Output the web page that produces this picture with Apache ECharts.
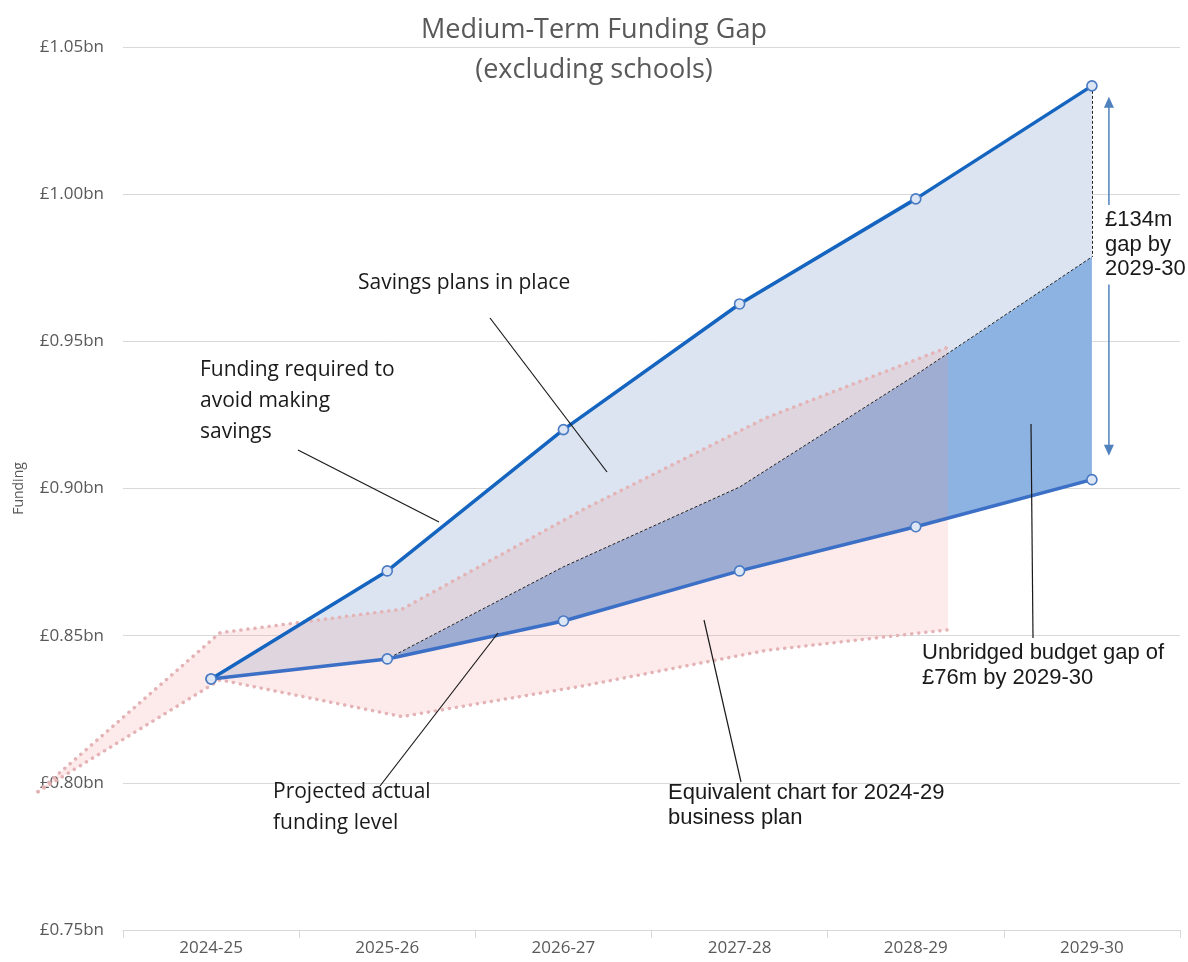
<!DOCTYPE html>
<html>
<head>
<meta charset="utf-8">
<title>Medium-Term Funding Gap</title>
<script src="https://cdn.jsdelivr.net/npm/echarts@6/dist/echarts.min.js"></script>
<style>
  html, body { margin: 0; padding: 0; background: #fff; }
  #chart { width: 1188px; height: 962px; }
</style>
</head>
<body>
<div id="chart"></div>
<script>
// years of the current plan
const years = ["2024-25", "2025-26", "2026-27", "2027-28", "2028-29", "2029-30"];
// £bn
const fundingRequired = [0.8353, 0.872, 0.92, 0.9627, 0.9984, 1.0368];
const savingsPlans = [0.8353, 0.8421, 0.8734, 0.9005, 0.9386, 0.9787];
const projectedActual = [0.8353, 0.8421, 0.855, 0.872, 0.887, 0.903];
// the 2024-29 plan, pasted behind as a faded shape
const prevYears = ["2023-24", "2024-25", "2025-26", "2026-27", "2027-28", "2028-29"];
const prevHigh = [0.797, 0.851, 0.859, 0.893, 0.924, 0.948];
const prevLow = [0.797, 0.835, 0.8225, 0.833, 0.845, 0.852];
const yTicks = [0.75, 0.8, 0.85, 0.9, 0.95, 1.0, 1.05];

const chart = echarts.init(document.getElementById("chart"));

const sans = "'Open Sans', 'Noto Sans', sans-serif";
const arial = "'Liberation Sans', Arial, sans-serif";
const grey = "#595959";

const bandLow = savingsPlans.map((v, i) => +(v - projectedActual[i]).toFixed(4));
const bandHigh = fundingRequired.map((v, i) => +(v - savingsPlans[i]).toFixed(4));
const prevBand = prevHigh.map((v, i) => +(v - prevLow[i]).toFixed(4));

const dotted = {
  color: "#e4b3b6",
  width: 3.5,
  type: [0.1, 7],
  cap: "round"
};

const marker = {
  color: "#dbe5f3",
  borderColor: "#4a7ac4",
  borderWidth: 1.6
};

let option = {
  backgroundColor: "#fff",
  animation: false,
  title: {
    text: "Medium-Term Funding Gap\n(excluding schools)",
    left: "center",
    top: 10,
    padding: 0,
    textStyle: {
      fontFamily: sans,
      fontSize: 27,
      fontWeight: "normal",
      color: grey,
      lineHeight: 40
    }
  },
  grid: [
    { left: 123, right: 8, top: 47, bottom: 32, containLabel: false, outerBoundsMode: "none" },
    { left: 38, right: 240, top: 47, bottom: 32, containLabel: false, outerBoundsMode: "none" }
  ],
  xAxis: [
    {
      type: "category",
      gridIndex: 0,
      data: years,
      boundaryGap: true,
      axisLine: { lineStyle: { color: "#d9d9d9", width: 1 } },
      axisTick: { show: true, length: 8, lineStyle: { color: "#d9d9d9" } },
      axisLabel: { color: grey, fontFamily: sans, fontSize: 17, margin: 10 }
    },
    {
      type: "category",
      gridIndex: 1,
      data: prevYears,
      boundaryGap: false,
      show: false
    }
  ],
  yAxis: [
    {
      type: "value",
      gridIndex: 0,
      min: yTicks[0],
      max: yTicks[yTicks.length - 1],
      interval: 0.05,
      name: "Funding",
      nameLocation: "middle",
      nameRotate: 90,
      nameGap: 97,
      nameTextStyle: { color: grey, fontFamily: sans, fontSize: 14 },
      axisLine: { show: false },
      axisTick: { show: false },
      splitLine: { lineStyle: { color: "#d9d9d9", width: 1 } },
      axisLabel: {
        color: grey,
        fontFamily: sans,
        fontSize: 17,
        margin: 19,
        formatter: v => "£" + v.toFixed(2) + "bn"
      }
    },
    {
      type: "value",
      gridIndex: 1,
      min: yTicks[0],
      max: yTicks[yTicks.length - 1],
      show: false,
      splitLine: { show: false }
    }
  ],
  series: [
    // filled bands, stacked on the projected line
    {
      name: "base",
      type: "line",
      stack: "band",
      data: projectedActual,
      symbol: "none",
      lineStyle: { opacity: 0 },
      silent: true,
      z: 1
    },
    {
      name: "Unbridged gap",
      type: "line",
      stack: "band",
      data: bandLow,
      symbol: "none",
      lineStyle: { opacity: 0 },
      areaStyle: { color: "#8db3e2", opacity: 1 },
      silent: true,
      z: 1
    },
    {
      name: "Savings plans in place",
      type: "line",
      stack: "band",
      data: bandHigh,
      symbol: "none",
      lineStyle: { opacity: 0 },
      areaStyle: { color: "#dbe4f0", opacity: 1 },
      silent: true,
      z: 1
    },
    // previous plan overlay
    {
      name: "prevLow",
      type: "line",
      xAxisIndex: 1,
      yAxisIndex: 1,
      stack: "prev",
      data: prevLow,
      symbol: "none",
      lineStyle: dotted,
      silent: true,
      z: 2
    },
    {
      name: "Equivalent chart for 2024-29",
      type: "line",
      xAxisIndex: 1,
      yAxisIndex: 1,
      stack: "prev",
      data: prevBand,
      symbol: "none",
      lineStyle: dotted,
      areaStyle: { color: "rgba(247, 150, 150, 0.27)" },
      silent: true,
      z: 2
    },
    // lines
    {
      name: "Savings line",
      type: "line",
      data: savingsPlans,
      symbol: "none",
      lineStyle: { color: "#222", width: 1, type: [3, 2] },
      z: 3,
      markLine: {
        silent: true,
        symbol: ["none", "none"],
        label: { show: false },
        lineStyle: { color: "#222", width: 1, type: [3, 2] },
        data: [[
          { coord: [years[5], fundingRequired[5]] },
          { coord: [years[5], savingsPlans[5]] }
        ]]
      }
    },
    {
      name: "Projected actual funding level",
      type: "line",
      data: projectedActual,
      symbol: "circle",
      symbolSize: 10,
      lineStyle: { color: "#3c70c6", width: 3.5 },
      itemStyle: marker,
      z: 4
    },
    {
      name: "Funding required",
      type: "line",
      data: fundingRequired,
      symbol: "circle",
      symbolSize: 10,
      lineStyle: { color: "#1565c0", width: 3.5 },
      itemStyle: marker,
      z: 5
    }
  ]
};

chart.setOption(option);

// annotations
const ink = "#1a1a1a";
function leader(x1, y1, x2, y2) {
  return {
    type: "line",
    silent: true,
    z: 10,
    shape: { x1: x1, y1: y1, x2: x2, y2: y2 },
    style: { stroke: ink, lineWidth: 1.2 }
  };
}
function note(text, x, y, font, size, lh, extra) {
  return {
    type: "text",
    silent: true,
    z: 11,
    x: x,
    y: y,
    style: Object.assign({
      text: text,
      fill: ink,
      fontFamily: font,
      fontSize: size,
      lineHeight: lh,
      align: "left",
      verticalAlign: "top"
    }, extra || {})
  };
}

const pTop = chart.convertToPixel({ gridIndex: 0 }, [years[5], fundingRequired[5]]);
const pBot = chart.convertToPixel({ gridIndex: 0 }, [years[5], projectedActual[5]]);
const ax = pTop[0] + 17;
const ay1 = pTop[1] + 11;
const ay2 = pBot[1] - 24;
const arrowColor = "#4f81bd";

chart.setOption({
  graphic: [
    leader(490, 318, 607, 472),
    leader(298, 450, 439, 522),
    leader(380, 786, 498, 633),
    leader(741, 782, 704, 620),
    leader(1033, 638, 1031, 424),
    {
      type: "line",
      silent: true,
      z: 9,
      shape: { x1: ax, y1: ay1 + 10, x2: ax, y2: ay2 - 10 },
      style: { stroke: arrowColor, lineWidth: 1.5 }
    },
    {
      type: "polygon",
      silent: true,
      z: 9,
      shape: { points: [[ax, ay1], [ax - 5, ay1 + 11], [ax + 5, ay1 + 11]] },
      style: { fill: arrowColor }
    },
    {
      type: "polygon",
      silent: true,
      z: 9,
      shape: { points: [[ax, ay2], [ax - 5, ay2 - 11], [ax + 5, ay2 - 11]] },
      style: { fill: arrowColor }
    },
    note("Savings plans in place", 358, 268, sans, 21, 30),
    note("Funding required to\navoid making\nsavings", 200, 355, sans, 21, 31),
    note("Projected actual\nfunding level", 273, 777, sans, 21, 31),
    note("Equivalent chart for 2024-29\nbusiness plan", 668, 780, arial, 22, 25),
    note("Unbridged budget gap of\n£76m by 2029-30", 922, 640, arial, 22, 25),
    note("£134m\ngap by\n2029-30", 1103, 205, arial, 22, 24.5, {
      backgroundColor: "#fff",
      padding: [3, 2, 3, 2]
    })
  ]
});

window.addEventListener("resize", () => chart.resize());
</script>
</body>
</html>
